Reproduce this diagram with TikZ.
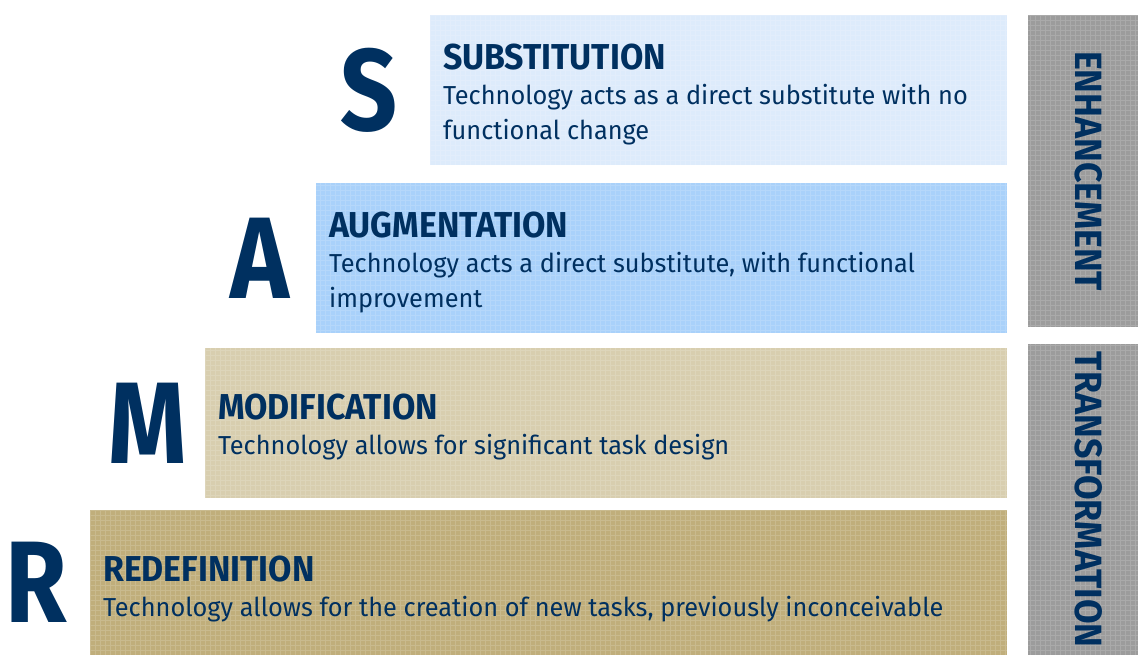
\documentclass[tikz,border=0pt]{standalone}
\usepackage{fontspec}
\setmainfont{Fira Sans}[FakeStretch=0.975]
\newfontfamily\headfont{Fira Sans}[FakeStretch=0.94]
\newfontfamily\bigfont{Fira Sans}[FakeStretch=0.86]
\usetikzlibrary{positioning}
\definecolor{navy}{RGB}{0,48,96}
\definecolor{sblue}{RGB}{221,235,251}
\definecolor{ablue}{RGB}{169,209,250}
\definecolor{mtan}{RGB}{216,206,175}
\definecolor{rtan}{RGB}{192,174,123}
\definecolor{sidegray}{RGB}{156,156,156}

\begin{document}
\begin{tikzpicture}[%
x=1pt, y=-1pt,
box/.style={anchor=north west, inner sep=0pt, minimum height=150pt},
texture/.style={step=5pt, white, opacity=0.15, line width=0.4pt},
letter/.style={text=navy, font=\bigfont\bfseries\fontsize{116}{116}\selectfont},
body/.style={anchor=west, align=left, text=navy, inner sep=0pt, font=\fontsize{26}{35}\selectfont},
side/.style={rotate=-90, text=navy, font=\headfont\bfseries\fontsize{38}{38}\selectfont},
]
\useasboundingbox (0,0) rectangle (1138,655);
%% substitution;
\node[box, fill=sblue, minimum width=577pt] (Sbox) at (430,15) {};
\draw[texture] (Sbox.north west) grid (Sbox.south east);
\node[body] (Stext) at ([xshift=13pt, yshift=-4pt]Sbox.west) {{\headfont\bfseries\fontsize{36}{36}\selectfont SUBSTITUTION}\\Technology acts as a direct substitute with no\\functional change};
\node[letter, left=29pt of Sbox] (S) {S};
%% augmentation;
\node[box, fill=ablue, minimum width=691pt] (Abox) at (316,183) {};
\draw[texture] (Abox.north west) grid (Abox.south east);
\node[body] (Atext) at ([xshift=13pt, yshift=-4pt]Abox.west) {{\headfont\bfseries\fontsize{36}{36}\selectfont AUGMENTATION}\\Technology acts a direct substitute, with functional\\improvement};
\node[letter, left=23pt of Abox] (A) {A};
%% modification;
\node[box, fill=mtan, minimum width=802pt] (Mbox) at (205,348) {};
\draw[texture] (Mbox.north west) grid (Mbox.south east);
\node[body] (Mtext) at ([xshift=13pt, yshift=-4pt]Mbox.west) {{\headfont\bfseries\fontsize{36}{36}\selectfont MODIFICATION}\\Technology allows for significant task design};
\node[letter, left=15pt of Mbox] (M) {M};
%% redefinition;
\node[box, fill=rtan, minimum width=917pt, minimum height=145pt] (Rbox) at (90,510) {};
\draw[texture] (Rbox.north west) grid (Rbox.south east);
\node[body] (Rtext) at ([xshift=13pt, yshift=-6pt]Rbox.west) {{\headfont\bfseries\fontsize{36}{36}\selectfont REDEFINITION}\\Technology allows for the creation of new tasks, previously inconceivable};
\node[letter, left=19pt of Rbox] (R) {R};
%% side bars;
\node[box, fill=sidegray, minimum width=110pt, minimum height=312pt] (Ebar) at (1028,15) {};
\draw[texture] (Ebar.north west) grid (Ebar.south east);
\node[side] (Etext) at ([xshift=5pt]Ebar.center) {ENHANCEMENT};
\node[box, fill=sidegray, minimum width=110pt, minimum height=311pt] (Tbar) at (1028,344) {};
\draw[texture] (Tbar.north west) grid (Tbar.south east);
\node[side] (Ttext) at ([xshift=5pt]Tbar.center) {TRANSFORMATION};
\end{tikzpicture}
\end{document}
